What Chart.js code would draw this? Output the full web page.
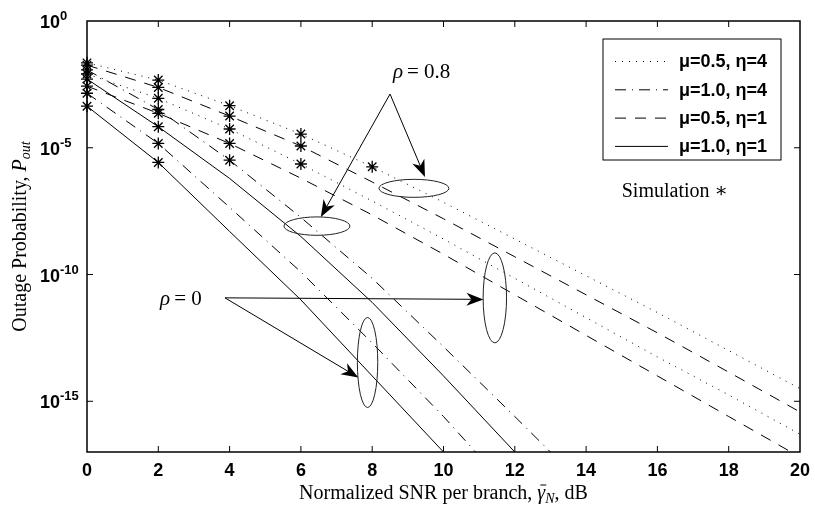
<!DOCTYPE html>
<html><head><meta charset="utf-8">
<script src="https://cdn.jsdelivr.net/npm/chart.js@4.4.1/dist/chart.umd.min.js"></script>
<style>html,body{margin:0;padding:0;background:#fff;}canvas{display:block;}</style>
</head><body>
<canvas id="c" width="815" height="511"></canvas>
<script>
// ---- data (log10 of outage probability) ----
const snr = [0, 2, 4, 6, 8, 10, 12, 14, 16, 18, 20];
// mu = 0.5 curves (shallow group)
const mu05eta4rho08 = [-1.65, -2.33, -3.34, -4.46, -5.75, -7.15, -8.6, -10.05, -11.5, -13.0, -14.5];
const mu05eta1rho08 = [-1.74, -2.62, -3.75, -4.93, -6.35, -7.8, -9.3, -10.8, -12.3, -13.85, -15.42];
const mu05eta4rho0  = [-2.09, -3.05, -4.26, -5.64, -7.1, -8.6, -10.15, -11.7, -13.25, -14.75, -16.3];
const mu05eta1rho0  = [-2.57, -3.64, -4.83, -6.2, -7.65, -9.2, -10.8, -12.4, -14.0, -15.6, -17.2];
// mu = 1.0 curves (steep group)
const snrMu10eta4rho08 = [0, 2, 4, 6, 8, 10, 12, 13];
const mu10eta4rho08 = [-1.93, -3.49, -5.49, -7.75, -10.15, -12.85, -15.6, -17.0];
const snrMu10eta1rho08 = [0, 2, 4, 6, 8, 10, 12];
const mu10eta1rho08 = [-2.29, -4.17, -6.21, -8.5, -11.1, -14.0, -17.0];
const snrMu10eta4rho0 = [0, 2, 4, 6, 8, 10, 10.9];
const mu10eta4rho0  = [-2.85, -4.83, -7.35, -9.9, -12.7, -15.6, -17.0];
const snrMu10eta1rho0 = [0, 2, 4, 6, 8, 10];
const mu10eta1rho0  = [-3.36, -5.58, -8.3, -11.0, -14.0, -17.0];
// simulation points
const simSnr = [0,0,0,0,0,0,0,0, 2,2,2,2,2,2,2,2, 4,4,4,4,4, 6,6,6, 8];
const simLog = [-1.65,-1.74,-1.93,-2.09,-2.29,-2.57,-2.85,-3.36,
                -2.33,-2.62,-3.05,-3.49,-3.64,-4.17,-4.83,-5.58,
                -3.34,-3.75,-4.26,-4.83,-5.49,
                -4.46,-4.93,-5.64,
                -5.75];
// axis ticks
const xTicks = [0, 2, 4, 6, 8, 10, 12, 14, 16, 18, 20];
const yTickExp = [-15, -10, -5, 0];
const legendLabels = ['\u03BC=0.5, \u03B7=4', '\u03BC=1.0, \u03B7=4', '\u03BC=0.5, \u03B7=1', '\u03BC=1.0, \u03B7=1'];

// ---- styles ----
const SANS = '"Liberation Sans", Arial, Helvetica, sans-serif';
const SERIF = '"Liberation Serif", "Times New Roman", serif';
const DOT = [1, 6], DASHDOT = [11, 6, 1, 6], DASH = [11, 9], SOLID = [];
const legendDash = [DOT, DASHDOT, DASH, SOLID];

function lineDs(label, xs, logs, dash) {
  return { label, data: xs.map((x, i) => ({ x, y: Math.pow(10, logs[i]) })),
    borderColor: '#000', borderWidth: 1, borderDash: dash, pointRadius: 0,
    fill: false, tension: 0, showLine: true };
}

const datasets = [
  lineDs('\u03BC=0.5, \u03B7=4, \u03C1=0.8', snr, mu05eta4rho08, DOT),
  lineDs('\u03BC=0.5, \u03B7=1, \u03C1=0.8', snr, mu05eta1rho08, DASH),
  lineDs('\u03BC=0.5, \u03B7=4, \u03C1=0', snr, mu05eta4rho0, DOT),
  lineDs('\u03BC=0.5, \u03B7=1, \u03C1=0', snr, mu05eta1rho0, DASH),
  lineDs('\u03BC=1.0, \u03B7=4, \u03C1=0.8', snrMu10eta4rho08, mu10eta4rho08, DASHDOT),
  lineDs('\u03BC=1.0, \u03B7=1, \u03C1=0.8', snrMu10eta1rho08, mu10eta1rho08, SOLID),
  lineDs('\u03BC=1.0, \u03B7=4, \u03C1=0', snrMu10eta4rho0, mu10eta4rho0, DASHDOT),
  lineDs('\u03BC=1.0, \u03B7=1, \u03C1=0', snrMu10eta1rho0, mu10eta1rho0, SOLID),
  { label: 'Simulation', type: 'scatter', data: simSnr.map((x, i) => ({ x, y: Math.pow(10, simLog[i]) })),
    showLine: false, pointStyle: 'star', pointRadius: 6, borderColor: '#000', borderWidth: 1.3, backgroundColor: '#000', clip: false }
];

// annotation anchors in data units (x in dB, y as log10)
const annot = {
  rho08Text: [8.58, -2.25], rho08From: [8.50, -2.88], rho08TipA: [6.56, -7.73], rho08TipB: [9.48, -6.15],
  ellA: [6.45, -8.09], ellB: [9.17, -6.60], ellC: [11.44, -10.92], ellD: [7.87, -13.47],
  rho0Text: [2.05, -11.20], rho0From: [3.87, -10.92], rho0TipC: [11.12, -10.98], rho0TipD: [7.61, -14.06],
  simText: [15.0, -6.94]
};

function arrow(ctx, x0, y0, x1, y1) {
  const a = Math.atan2(y1 - y0, x1 - x0), c = Math.cos(a), s = Math.sin(a);
  const L = 17, W = 6.5, N = 5;
  ctx.beginPath(); ctx.moveTo(x0, y0); ctx.lineTo(x1 - (L - N) * c, y1 - (L - N) * s); ctx.stroke();
  ctx.beginPath();
  ctx.moveTo(x1, y1);
  ctx.lineTo(x1 - L * c + W * s, y1 - L * s - W * c);
  ctx.lineTo(x1 - (L - N) * c, y1 - (L - N) * s);
  ctx.lineTo(x1 - L * c - W * s, y1 - L * s + W * c);
  ctx.closePath(); ctx.fill();
}

function runsWidth(ctx, runs) {
  let w = 0; runs.forEach(r => { ctx.font = r.font; w += ctx.measureText(r.t).width + (r.gap || 0); }); return w;
}
function drawRuns(ctx, runs, x, y) {
  runs.forEach(r => {
    ctx.font = r.font;
    ctx.fillText(r.t, x, y + (r.dy || 0));
    const w = ctx.measureText(r.t).width;
    if (r.bar) { ctx.save(); ctx.lineWidth = 1; ctx.beginPath(); ctx.moveTo(x + 3, y - 14); ctx.lineTo(x + w + 1, y - 14); ctx.stroke(); ctx.restore(); }
    x += w + (r.gap || 0);
  });
}

const decor = {
  id: 'decor',
  afterDraw(chart) {
    const { ctx, chartArea: a, scales: { x, y } } = chart;
    const P = (p) => [x.getPixelForValue(p[0]), y.getPixelForValue(Math.pow(10, p[1]))];
    ctx.save();
    ctx.strokeStyle = '#000'; ctx.fillStyle = '#000';
    // frame
    ctx.lineWidth = 1.5;
    ctx.strokeRect(a.left, a.top, a.right - a.left, a.bottom - a.top);
    // inward tick marks
    ctx.lineWidth = 1;
    ctx.beginPath();
    x.ticks.forEach(t => {
      const px = x.getPixelForValue(t.value);
      if (px <= a.left + 1 || px >= a.right - 1) return;
      ctx.moveTo(px, a.bottom); ctx.lineTo(px, a.bottom - 6);
      ctx.moveTo(px, a.top); ctx.lineTo(px, a.top + 6);
    });
    y.ticks.forEach(t => {
      const py = y.getPixelForValue(t.value);
      if (py <= a.top + 1 || py >= a.bottom - 1) return;
      ctx.moveTo(a.left, py); ctx.lineTo(a.left + 6, py);
      ctx.moveTo(a.right, py); ctx.lineTo(a.right - 6, py);
    });
    ctx.stroke();
    // x tick labels
    ctx.font = 'bold 18px ' + SANS; ctx.textAlign = 'center'; ctx.textBaseline = 'alphabetic';
    x.ticks.forEach(t => { ctx.fillText(String(t.value), x.getPixelForValue(t.value), a.bottom + 24); });
    // y tick labels 10^e
    ctx.textAlign = 'left';
    y.ticks.forEach(t => {
      const e = Math.round(Math.log10(t.value));
      const py = y.getPixelForValue(t.value);
      ctx.font = 'bold 18px ' + SANS;
      const lx = a.left - 47;
      ctx.fillText('10', lx, py + 7);
      const w = ctx.measureText('10').width;
      ctx.font = 'bold 13px ' + SANS;
      ctx.fillText(String(e), lx + w, py - 1);
    });
    // y title
    const yRuns = [
      { t: 'Outage Probability, ', font: '20px ' + SERIF },
      { t: 'P', font: 'italic 20px ' + SERIF },
      { t: 'out', font: 'italic 14px ' + SERIF, dy: 4 }
    ];
    ctx.save();
    ctx.translate(a.left - 61, (a.top + a.bottom) / 2);
    ctx.rotate(-Math.PI / 2);
    drawRuns(ctx, yRuns, -runsWidth(ctx, yRuns) / 2, 0);
    ctx.restore();
    // x title
    const xRuns = [
      { t: 'Normalized SNR per branch, ', font: '20px ' + SERIF },
      { t: '\u03B3', font: 'italic 20px ' + SERIF, bar: true },
      { t: 'N', font: 'italic 14px ' + SERIF, dy: 4 },
      { t: ', dB', font: '20px ' + SERIF }
    ];
    drawRuns(ctx, xRuns, (a.left + a.right) / 2 - runsWidth(ctx, xRuns) / 2, a.bottom + 47);
    // legend
    const bl = a.right - 197, bt = a.top + 18, bw = 178, bh = 121;
    ctx.fillStyle = '#fff'; ctx.fillRect(bl, bt, bw, bh);
    ctx.fillStyle = '#000'; ctx.lineWidth = 1; ctx.strokeRect(bl, bt, bw, bh);
    ctx.font = 'bold 18px ' + SANS; ctx.textBaseline = 'middle';
    legendLabels.forEach((lab, i) => {
      const ry = bt + 22.5 + 28.3 * i;
      ctx.save(); ctx.setLineDash(legendDash[i]); ctx.beginPath();
      ctx.moveTo(bl + 12, ry); ctx.lineTo(bl + 65, ry); ctx.stroke(); ctx.restore();
      ctx.fillText(lab, bl + 76, ry + 1);
    });
    ctx.textBaseline = 'alphabetic';
    // simulation note
    let p = P(annot.simText);
    drawRuns(ctx, [{ t: 'Simulation ', font: '20px ' + SERIF }, { t: '\u2217', font: '20px "DejaVu Serif", ' + SERIF }], p[0], p[1]);
    // rho = 0.8 / rho = 0
    p = P(annot.rho08Text);
    drawRuns(ctx, [{ t: '\u03C1', font: 'italic 21px ' + SERIF, gap: 4 }, { t: '= 0.8', font: '21px ' + SERIF }], p[0], p[1]);
    p = P(annot.rho0Text);
    drawRuns(ctx, [{ t: '\u03C1', font: 'italic 21px ' + SERIF, gap: 4 }, { t: '= 0', font: '21px ' + SERIF }], p[0], p[1]);
    // ellipses
    ctx.lineWidth = 1; ctx.strokeStyle = '#222';
    [[annot.ellA, 33, 9.2], [annot.ellB, 35, 9], [annot.ellC, 11.7, 45], [annot.ellD, 10.2, 45]].forEach(([c, rx, ry]) => {
      const q = P(c); ctx.beginPath(); ctx.ellipse(q[0], q[1], rx, ry, 0, 0, Math.PI * 2); ctx.stroke();
    });
    // arrows
    ctx.strokeStyle = '#000';
    let f = P(annot.rho08From), t1 = P(annot.rho08TipA), t2 = P(annot.rho08TipB);
    arrow(ctx, f[0], f[1], t1[0], t1[1]); arrow(ctx, f[0], f[1], t2[0], t2[1]);
    f = P(annot.rho0From); t1 = P(annot.rho0TipC); t2 = P(annot.rho0TipD);
    arrow(ctx, f[0], f[1], t1[0], t1[1]); arrow(ctx, f[0], f[1], t2[0], t2[1]);
    ctx.restore();
  }
};

new Chart(document.getElementById('c').getContext('2d'), {
  type: 'line',
  data: { datasets },
  options: {
    responsive: false, animation: false, events: [], devicePixelRatio: 1,
    layout: { padding: { left: 87, top: 21, right: 15, bottom: 59 } },
    scales: {
      x: { type: 'linear', min: 0, max: 20,
        afterBuildTicks: s => { s.ticks = xTicks.map(v => ({ value: v })); },
        ticks: { display: false },
        grid: { display: false, drawTicks: false }, border: { display: false } },
      y: { type: 'logarithmic', min: 1e-17, max: 1,
        afterBuildTicks: s => { s.ticks = yTickExp.map(e => ({ value: Math.pow(10, e) })); },
        ticks: { display: false },
        grid: { display: false, drawTicks: false }, border: { display: false } }
    },
    plugins: { legend: { display: false }, tooltip: { enabled: false } }
  },
  plugins: [decor]
});
</script>
</body></html>
